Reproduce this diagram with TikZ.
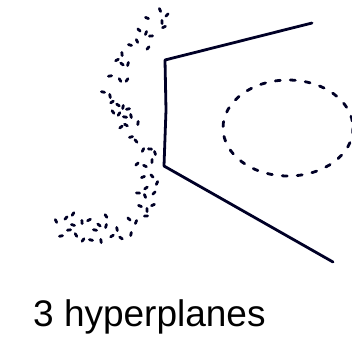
\documentclass[tikz,border=0pt]{standalone}
\usepackage{fontspec}
\setmainfont{Liberation Sans}
\usetikzlibrary{positioning}

\tikzset{
  plane/.style={line width=2.8pt, color=black!85!blue, line join=round, line cap=round},
  blob/.style={line width=2.8pt, color=black!85!blue, line cap=round},
  loop/.style={line width=2.8pt, color=black!85!blue, line cap=round, dash pattern=on 5pt off 10pt}
}

\begin{document}
\begin{tikzpicture}[x=1pt, y=-1pt]
    \useasboundingbox (0,0) rectangle (352,360);
    % the three hyperplanes
    \coordinate (top) at (312,23);
    \coordinate (c1) at (165,60);
    \coordinate (c2) at (164,166);
    \coordinate (bot) at (333,262);
    \draw[plane] (top) -- (c1) -- (166,110) -- (c2) -- (bot);
    % class on the right
    \coordinate (ring) at (288,128);
    \draw[loop] (ring) ellipse [x radius=65, y radius=48];
    % class on the left (scattered points)
    \foreach \x/\y [count=\i] in {160/10,167/15,147/18,162/22,164/27,139/30,146/33,151/36,137/41,148/48,
        130/45,122/54,117/60,122/64,128/64,110/76,120/80,127/80,103/92,110/96,112/102,118/105,123/107,
        128/109,113/112,119/114,125/117,131/116,121/127,126/125,138/123,131/137,136/141,143/150,150/149,
        155/153,137/164,145/166,152/161,143/177,152/176,157/183,138/193,145/196,154/193,140/206,147/210,
        153/205,129/219,136/222,146/216,56/221,66/218,73/225,82/222,89/220,99/225,106/226,69/230,76/235,
        83/240,91/240,101/241,112/236,121/238,131/234,61/236,106/216,73/214,95/230,117/229,146/188}
      \draw[blob] (\x,\y) ++({mod(\i*67,180)}:1.6) -- ++({mod(\i*67,180)+180}:3.2);
    % caption
    \node[anchor=base west, inner sep=0pt, font=\fontsize{37}{40}\selectfont] (caption) at (33,326) {3 hyperplanes};
  \end{tikzpicture}
\end{document}
